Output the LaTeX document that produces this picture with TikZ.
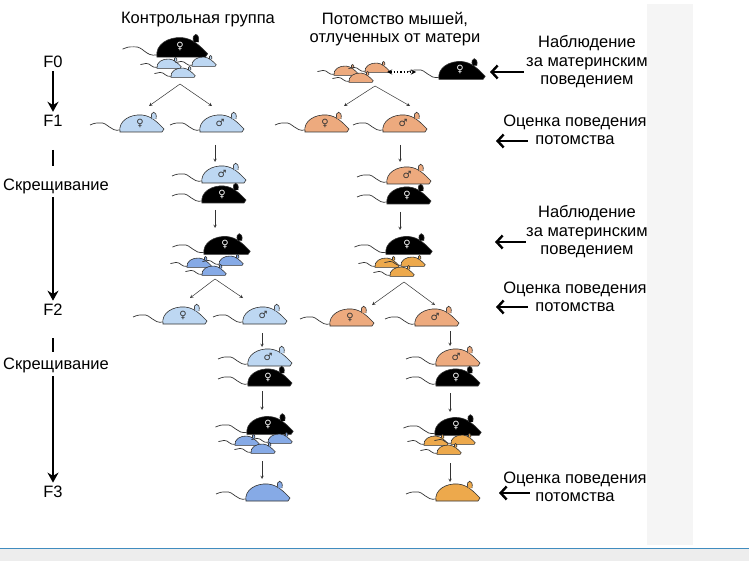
\documentclass[tikz,border=0pt]{standalone}
\usepackage{fontspec}
\usetikzlibrary{arrows.meta}
\setmainfont{Liberation Sans}
\newfontfamily\symfont{DejaVu Sans}
\definecolor{lb}{HTML}{BDD7F2}
\definecolor{db}{HTML}{86AAE6}
\definecolor{lo}{HTML}{EDAA7E}
\definecolor{do}{HTML}{EDA94C}
\definecolor{ml}{HTML}{333333}
\newcommand\mmouse[6]{\begin{scope}[shift={(#1,#2)},scale=#3]
\draw[ml,line width=.7pt] (-20,6) .. controls (-30,8) and (-32,-2) .. (-40,-1) .. controls (-45,-1) .. (-50,1);
\draw[fill=#4,draw=ml,line width=.6pt] (-20,8) .. controls (-22,-3) and (-10,-10) .. (2,-9) .. controls (12,-8) and (18,-1) .. (24,5) -- (22,8) -- cycle;
\draw[fill=#4,draw=ml,line width=.6pt] (12,-5) .. controls (9,-14) and (18,-14) .. (16,-5);
\node[text=#6,inner sep=0pt,font=\symfont\fontsize{10}{10}\selectfont] at (0,-1) {#5};
\end{scope}}
\tikzset{lbl/.style={align=center,font=\fontsize{16.5}{18.5}\selectfont},
 thin/.style={-stealth,line width=.5pt,draw=ml},
 big/.style={-{Stealth[length=10pt,width=11pt]},line width=2.6pt},
 rarr/.style={{Straight Barb[length=6pt,width=13pt]}-,line width=2.4pt}}
\begin{document}
\begin{tikzpicture}[x=1pt,y=-1pt]
\useasboundingbox (0,0) rectangle (749,561);
\fill[white] (0,0) rectangle (749,561);
\fill[black!4] (647,4) rectangle (693,545);
\fill[black!7] (0,548) rectangle (749,561);
\draw[blue!40!cyan!50!gray,line width=.8pt] (0,548) -- (749,548);
% headers
\node[lbl] (h1) at (198,20) {Контрольная группа};
\node[lbl] (h2) at (395,29) {Потомство мышей,\\отлученных от матери};
% left axis
\node[lbl] (f0) at (53,62) {F0};
\node[lbl] (f1) at (53,121) {F1};
\node[lbl] (s1) at (56,186) {Скрещивание};
\node[lbl] (f2) at (53,310) {F2};
\node[lbl] (s2) at (56,365) {Скрещивание};
\node[lbl] (f3) at (53,492) {F3};
\draw[big] (f0.south) -- (f1.north);
\draw[line width=2.8pt] (53,150) -- (53,166);
\draw[big] (s1.south -| f2.north) -- (f2.north);
\draw[line width=2.8pt] (53,338) -- (53,352);
\draw[big] (s2.south -| f3.north) -- (f3.north);
% right labels
\node[lbl] (r1) at (587,62) {Наблюдение\\за материнским\\поведением};
\node[lbl] (r2) at (575,130) {Оценка поведения\\потомства};
\node[lbl] (r3) at (587,232) {Наблюдение\\за материнским\\поведением};
\node[lbl] (r4) at (575,297) {Оценка поведения\\потомства};
\node[lbl] (r5) at (575,487) {Оценка поведения\\потомства};
\draw[rarr] (490,72) -- (524,72);
\draw[rarr] (496,141) -- (528,141);
\draw[rarr] (495,242) -- (526,242);
\draw[rarr] (496,307) -- (528,307);
\draw[rarr] (499,493) -- (530,493);
% control column
\mmouse{180}{48}{1.15}{black}{♀}{white}
\mmouse{168}{64}{0.55}{lb}{}{ml}
\mmouse{203}{62}{0.55}{lb}{}{ml}
\mmouse{182}{73}{0.55}{lb}{}{ml}
\draw[thin] (180,84) -- (149,106);
\draw[thin] (180,84) -- (212,106);
\mmouse{140}{124}{1}{lb}{♀}{ml}
\mmouse{220}{124}{1}{lb}{♂}{ml}
\draw[thin] (215,145) -- (215,162);
\mmouse{222}{175}{1}{lb}{♂}{ml}
\mmouse{222}{195}{1}{black}{♀}{white}
\draw[thin] (215,210) -- (215,228);
\mmouse{225}{246}{1.05}{black}{♀}{white}
\mmouse{198}{263}{0.55}{db}{}{ml}
\mmouse{230}{261}{0.55}{db}{}{ml}
\mmouse{213}{271}{0.55}{db}{}{ml}
\draw[thin] (215,279) -- (190,298);
\draw[thin] (215,279) -- (243,298);
\mmouse{183}{316}{1}{lb}{♀}{ml}
\mmouse{263}{316}{1}{lb}{♂}{ml}
\draw[thin] (262,333) -- (262,347);
\mmouse{268}{358}{1}{lb}{♂}{ml}
\mmouse{268}{378}{1}{black}{♀}{white}
\draw[thin] (262,391) -- (262,410);
\mmouse{268}{426}{1.05}{black}{♀}{white}
\mmouse{246}{441}{0.55}{db}{}{ml}
\mmouse{279}{439}{0.55}{db}{}{ml}
\mmouse{262}{449}{0.55}{db}{}{ml}
\draw[thin] (262,461) -- (262,479);
\mmouse{266}{493}{1}{db}{}{ml}
% weaned column
\mmouse{345}{71}{0.55}{lo}{}{ml}
\mmouse{376}{68}{0.55}{lo}{}{ml}
\mmouse{360}{78}{0.55}{lo}{}{ml}
\draw[stealth-stealth,dotted,line width=1.3pt] (387,72) -- (416,72);
\mmouse{460}{71}{1.05}{black}{♀}{white}
\draw[thin] (375,86) -- (344,106);
\draw[thin] (375,86) -- (410,106);
\mmouse{325}{124}{1}{lo}{♀}{ml}
\mmouse{403}{124}{1}{lo}{♂}{ml}
\draw[thin] (400,145) -- (400,162);
\mmouse{407}{176}{1}{lo}{♂}{ml}
\mmouse{407}{196}{1}{black}{♀}{white}
\draw[thin] (400,212) -- (400,230);
\mmouse{407}{246}{1.05}{black}{♀}{white}
\mmouse{386}{263}{0.55}{do}{}{ml}
\mmouse{412}{262}{0.55}{do}{}{ml}
\mmouse{401}{272}{0.55}{do}{}{ml}
\draw[thin] (404,282) -- (372,305);
\draw[thin] (404,282) -- (435,305);
\mmouse{350}{318}{1}{lo}{♀}{ml}
\mmouse{435}{318}{1}{lo}{♂}{ml}
\draw[thin] (450,331) -- (450,346);
\mmouse{456}{358}{1}{lo}{♂}{ml}
\mmouse{456}{378}{1}{black}{♀}{white}
\draw[thin] (450,393) -- (450,412);
\mmouse{456}{427}{1.05}{black}{♀}{white}
\mmouse{435}{441}{0.55}{do}{}{ml}
\mmouse{462}{440}{0.55}{do}{}{ml}
\mmouse{448}{450}{0.55}{do}{}{ml}
\draw[thin] (450,463) -- (450,482);
\mmouse{456}{493}{1}{do}{}{ml}
\end{tikzpicture}
\end{document}
